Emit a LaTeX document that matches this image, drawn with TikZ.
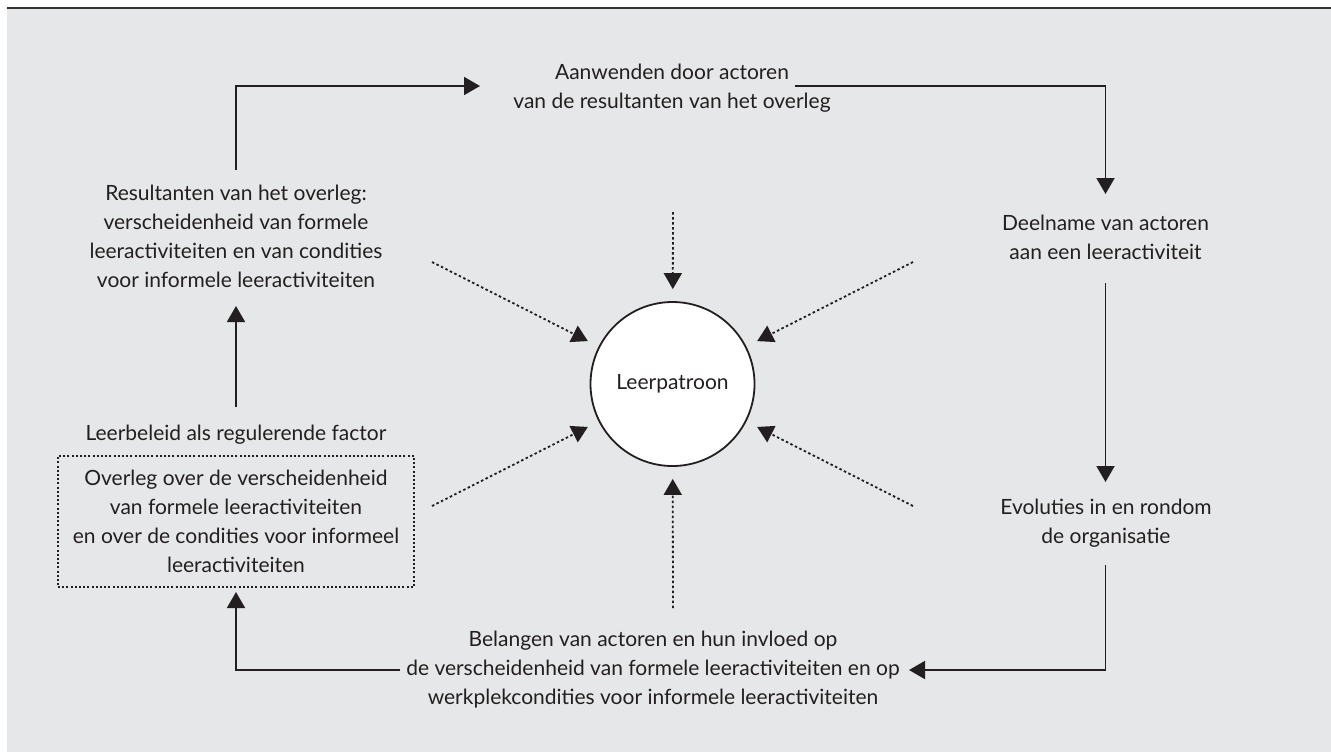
\documentclass[tikz,border=0pt]{standalone}
\usepackage{fontspec}
\setmainfont{Lato}
\usetikzlibrary{arrows.meta}
\definecolor{bg}{HTML}{E6E7E8}
\definecolor{ink}{HTML}{231F20}
\begin{document}
\begin{tikzpicture}[x=0.5pt,y=-0.5pt,
  txt/.style={align=center, inner sep=0pt, text=ink, font=\fontsize{10.5}{14.5}\selectfont},
  arr/.style={draw=ink, line width=0.9pt, -{Triangle[length=8pt,width=9pt]}},
  dotarr/.style={arr, dash pattern=on 1.25pt off 1.25pt},
  dotbox/.style={draw=ink, line width=0.7pt, dash pattern=on 1pt off 1.1pt},
  ring/.style={circle, draw=ink, fill=white, line width=0.9pt, minimum size=82pt, inner sep=0pt}]
\useasboundingbox (0,0) rectangle (1331,752);
\fill[white] (0,0) rectangle (1331,752);
\fill[bg] (7,8) rectangle (1331,752);
\draw[line width=1pt, color=black!80] (7,8) -- (1331,8);

\node[txt] (T) at (672,88) {Aanwenden door actoren\\van de resultanten van het overleg};
\node[txt] (R) at (236,236) {Resultanten van het overleg:\\verscheidenheid van formele\\leeractiviteiten en van condities\\voor informele leeractiviteiten};
\node[txt] (D) at (1105.5,237.5) {Deelname van actoren\\aan een leeractiviteit};
\node[txt] (E) at (1106,523) {Evoluties in en rondom\\de organisatie};
\node[txt] (B) at (653,669.5) {Belangen van actoren en hun invloed op\\de verscheidenheid van formele leeractiviteiten en op\\werkplekcondities voor informele leeractiviteiten};
\node[txt] (L) at (236,434.5) {Leerbeleid als regulerende factor};
\node[txt, dotbox, minimum width=178pt, minimum height=65.5pt] (O) at (236,521.5) {Overleg over de verscheidenheid\\van formele leeractiviteiten\\en over de condities voor informeel\\leeractiviteiten};
\node[ring, txt, inner sep=0pt] (C) at (672.5,384) {Leerpatroon};

\coordinate (Rout) at (236,170);
\coordinate (Tin) at (480,86);
\coordinate (Tout) at (795,86);
\coordinate (Din) at (1105.5,194);
\coordinate (Dout) at (1105.5,283);
\coordinate (Ein) at (1105.5,482);
\coordinate (Eout) at (1105.5,565);
\coordinate (Bin) at (909,670);
\coordinate (Bout) at (400,670);
\coordinate (Oin) at (236,592);
\coordinate (Lout) at (236,407);
\coordinate (Rin) at (236,306);

\draw[arr] (Rout) |- (Tin);
\draw[arr] (Tout) -| (Din);
\draw[arr] (Dout) -- (Ein);
\draw[arr] (Eout) |- (Bin);
\draw[arr] (Bout) -| (Oin);
\draw[arr] (Lout) -- (Rin);

\coordinate (s1) at (673,212);
\coordinate (s2) at (432,262);
\coordinate (s3) at (913,262);
\coordinate (s4) at (432,506);
\coordinate (s5) at (913,506);
\coordinate (s6) at (673,608);
\foreach \s in {s1,s2,s3,s4,s5,s6} \draw[dotarr, shorten >=6pt] (\s) -- (C);
\end{tikzpicture}
\end{document}
